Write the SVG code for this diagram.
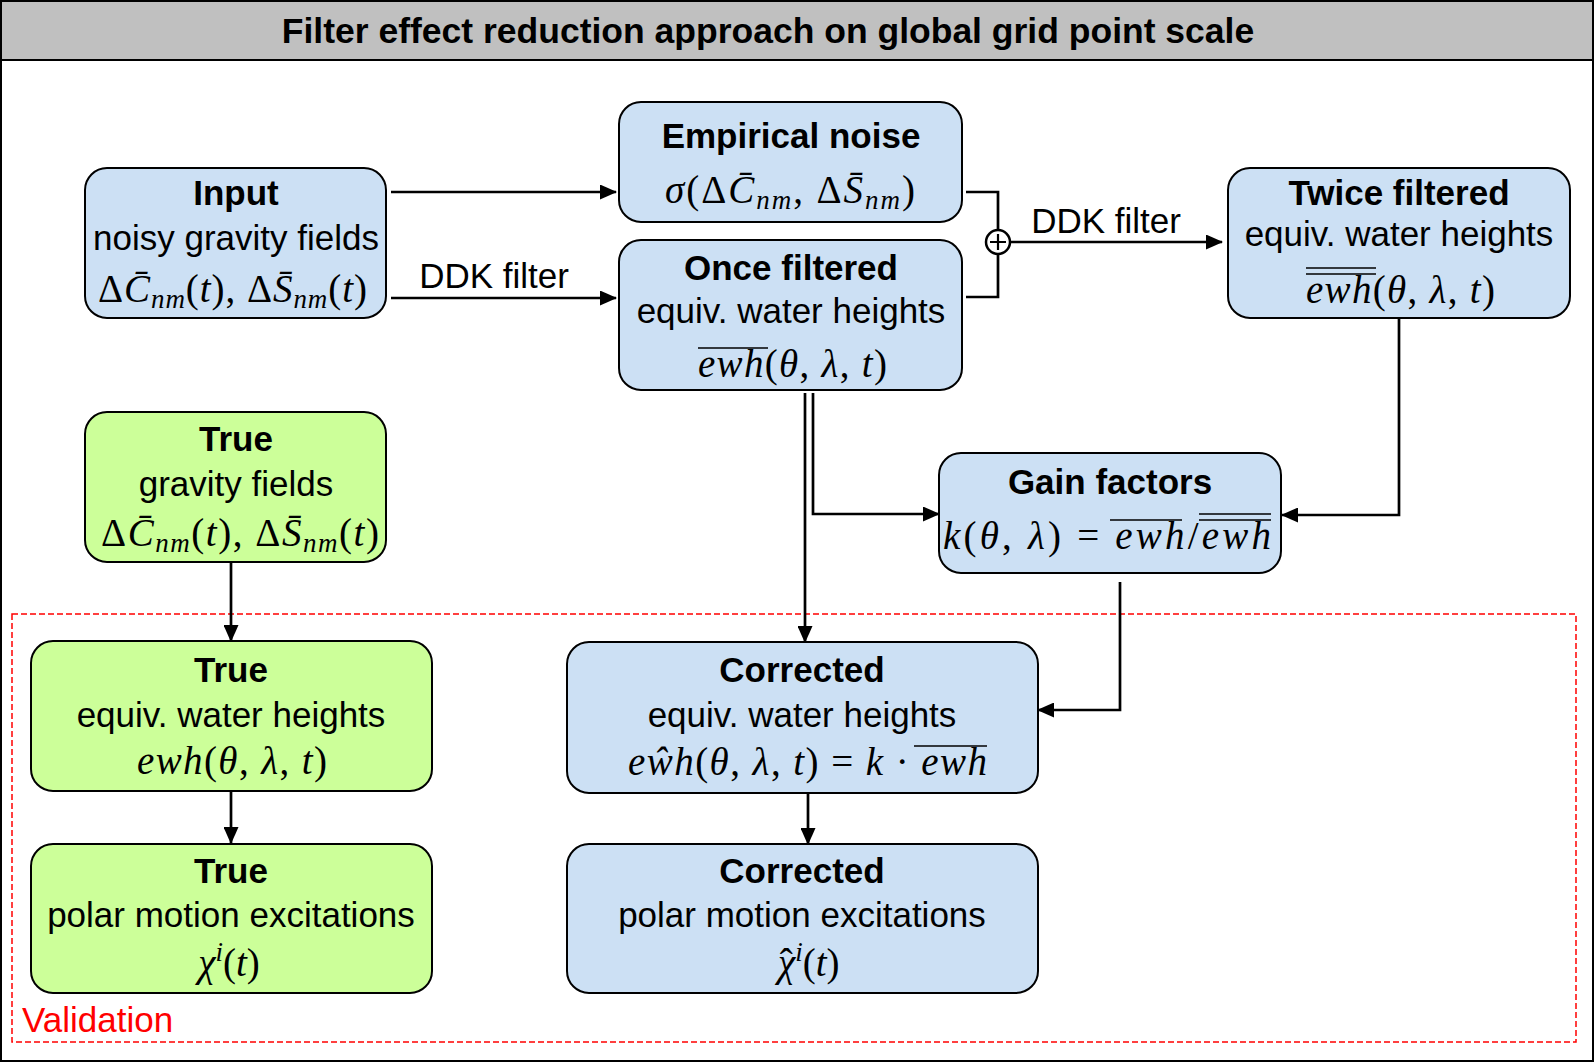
<svg xmlns="http://www.w3.org/2000/svg" width="1594" height="1062" viewBox="0 0 1594 1062">
<defs>
<style>
.t{font-family:"Liberation Sans",Arial,sans-serif;font-size:35px;fill:#000;text-anchor:middle}
.b{font-weight:bold}
.m{font-family:"Liberation Serif","Times New Roman",serif;font-size:39px;fill:#000}
.i{font-style:italic}
.s{font-size:27px}
.blue{fill:#cce0f4;stroke:#000;stroke-width:2}
.green{fill:#ccff99;stroke:#000;stroke-width:2}
.c{fill:none;stroke:#000;stroke-width:2.7}
.bar{stroke:#000;stroke-width:1.6}
</style>
<marker id="ah" markerUnits="userSpaceOnUse" markerWidth="17" markerHeight="15" refX="16" refY="7.5" orient="auto"><path d="M0,0 L17,7.5 L0,15 z" fill="#000"/></marker>
</defs>
<rect x="0" y="0" width="1594" height="1062" fill="#fff"/>
<rect x="1" y="1" width="1592" height="1060" fill="none" stroke="#000" stroke-width="2"/>
<g id="title">
<rect x="1" y="1" width="1592" height="59" fill="#c0c0c0" stroke="#000" stroke-width="2"/>
<text class="t b" x="768" y="43" style="font-size:35.5px">Filter effect reduction approach on global grid point scale</text>
</g>
<g id="validation">
<rect x="12" y="614" width="1564" height="428" fill="none" stroke="#ff0000" stroke-width="1.5" stroke-dasharray="6 3"/>
<text x="22" y="1032" font-family="Liberation Sans, Arial, sans-serif" font-size="35" fill="#ff0000">Validation</text>
</g>
<g id="connectors">
<path class="c" d="M391,192 H616" marker-end="url(#ah)"/>
<path class="c" d="M391,298 H616" marker-end="url(#ah)"/>
<text class="t" x="494" y="288">DDK filter</text>
<path class="c" d="M966,192 H998 V297 H966"/>
<circle cx="998" cy="242" r="12" fill="#fff" stroke="#000" stroke-width="2.5"/>
<path d="M990,242 H1006 M998,234 V250" stroke="#000" stroke-width="2.2"/>
<path class="c" d="M1010,242 H1222" marker-end="url(#ah)"/>
<text class="t" x="1106" y="233">DDK filter</text>
<path class="c" d="M813,393 V514 H939" marker-end="url(#ah)"/>
<path class="c" d="M805,393 V642" marker-end="url(#ah)"/>
<path class="c" d="M1399,318 V515 H1282" marker-end="url(#ah)"/>
<path class="c" d="M1120,582 V710 H1038" marker-end="url(#ah)"/>
<path class="c" d="M231,562 V641" marker-end="url(#ah)"/>
<path class="c" d="M231,791 V843" marker-end="url(#ah)"/>
<path class="c" d="M808,793 V844" marker-end="url(#ah)"/>
</g>
<g id="n-input">
<rect class="blue" x="85" y="168" width="301" height="150" rx="22"/>
<text class="t b" x="236" y="205">Input</text>
<text class="t" x="236" y="250">noisy gravity fields</text>
<text class="m" x="98" y="302" textLength="269" lengthAdjust="spacing">Δ<tspan class="i">C̄</tspan><tspan class="i s" dy="6">nm</tspan><tspan dy="-6">(</tspan><tspan class="i">t</tspan>), Δ<tspan class="i">S̄</tspan><tspan class="i s" dy="6">nm</tspan><tspan dy="-6">(</tspan><tspan class="i">t</tspan>)</text>
</g>
<g id="n-noise">
<rect class="blue" x="619" y="102" width="343" height="120" rx="22"/>
<text class="t b" x="791" y="148">Empirical noise</text>
<text class="m" x="665" y="203" textLength="250" lengthAdjust="spacing"><tspan class="i">σ</tspan>(Δ<tspan class="i">C̄</tspan><tspan class="i s" dy="6">nm</tspan><tspan dy="-6">, Δ</tspan><tspan class="i">S̄</tspan><tspan class="i s" dy="6">nm</tspan><tspan dy="-6">)</tspan></text>
</g>
<g id="n-once">
<rect class="blue" x="619" y="240" width="343" height="150" rx="22"/>
<text class="t b" x="791" y="280">Once filtered</text>
<text class="t" x="791" y="323">equiv. water heights</text>
<text class="m" x="698" y="377" textLength="189" lengthAdjust="spacing"><tspan class="i">ewh</tspan>(<tspan class="i">θ</tspan>, <tspan class="i">λ</tspan>, <tspan class="i">t</tspan>)</text>
<line class="bar" x1="698" y1="348" x2="768" y2="348"/>
</g>
<g id="n-twice">
<rect class="blue" x="1228" y="168" width="342" height="150" rx="22"/>
<text class="t b" x="1399" y="205">Twice filtered</text>
<text class="t" x="1399" y="246">equiv. water heights</text>
<text class="m" x="1306" y="303" textLength="189" lengthAdjust="spacing"><tspan class="i">ewh</tspan>(<tspan class="i">θ</tspan>, <tspan class="i">λ</tspan>, <tspan class="i">t</tspan>)</text>
<line class="bar" x1="1306" y1="268" x2="1376" y2="268"/>
<line class="bar" x1="1306" y1="274" x2="1376" y2="274"/>
</g>
<g id="n-gain">
<rect class="blue" x="939" y="453" width="342" height="120" rx="22"/>
<text class="t b" x="1110" y="494">Gain factors</text>
<text class="m" x="943" y="549" textLength="328" lengthAdjust="spacing"><tspan class="i">k</tspan>(<tspan class="i">θ</tspan>, <tspan class="i">λ</tspan>)  =  <tspan class="i">ewh</tspan>/<tspan class="i">ewh</tspan></text>
<line class="bar" x1="1110" y1="520" x2="1182" y2="520"/>
<line class="bar" x1="1199" y1="514" x2="1271" y2="514"/>
<line class="bar" x1="1199" y1="520" x2="1271" y2="520"/>
</g>
<g id="n-truegrav">
<rect class="green" x="85" y="412" width="301" height="150" rx="22"/>
<text class="t b" x="236" y="451">True</text>
<text class="t" x="236" y="496">gravity fields</text>
<text class="m" x="101" y="546" textLength="278" lengthAdjust="spacing">Δ<tspan class="i">C̄</tspan><tspan class="i s" dy="6">nm</tspan><tspan dy="-6">(</tspan><tspan class="i">t</tspan>), Δ<tspan class="i">S̄</tspan><tspan class="i s" dy="6">nm</tspan><tspan dy="-6">(</tspan><tspan class="i">t</tspan>)</text>
</g>
<g id="n-trueewh">
<rect class="green" x="31" y="641" width="401" height="150" rx="22"/>
<text class="t b" x="231" y="682">True</text>
<text class="t" x="231" y="727">equiv. water heights</text>
<text class="m" x="137" y="774" textLength="190" lengthAdjust="spacing"><tspan class="i">ewh</tspan>(<tspan class="i">θ</tspan>, <tspan class="i">λ</tspan>, <tspan class="i">t</tspan>)</text>
</g>
<g id="n-correwh">
<rect class="blue" x="567" y="642" width="471" height="151" rx="22"/>
<text class="t b" x="802" y="682">Corrected</text>
<text class="t" x="802" y="727">equiv. water heights</text>
<text class="m" x="628" y="775" textLength="359" lengthAdjust="spacing"><tspan class="i">eŵh</tspan>(<tspan class="i">θ</tspan>, <tspan class="i">λ</tspan>, <tspan class="i">t</tspan>)  =  <tspan class="i">k</tspan> · <tspan class="i">ewh</tspan></text>
<line class="bar" x1="914" y1="746" x2="987" y2="746"/>
</g>
<g id="n-truepolar">
<rect class="green" x="31" y="844" width="401" height="149" rx="22"/>
<text class="t b" x="231" y="883">True</text>
<text class="t" x="231" y="927">polar motion excitations</text>
<text class="m" x="229" y="976" text-anchor="middle"><tspan class="i">χ</tspan><tspan class="i s" dy="-15">i</tspan><tspan dy="15">(</tspan><tspan class="i">t</tspan>)</text>
</g>
<g id="n-corrpolar">
<rect class="blue" x="567" y="844" width="471" height="149" rx="22"/>
<text class="t b" x="802" y="883">Corrected</text>
<text class="t" x="802" y="927">polar motion excitations</text>
<text class="m" x="778" y="976"><tspan class="i">χ</tspan><tspan dx="-15.5">ˆ</tspan><tspan class="i s" dx="2.5" dy="-15">i</tspan><tspan dy="15">(</tspan><tspan class="i">t</tspan>)</text>
</g>
</svg>
